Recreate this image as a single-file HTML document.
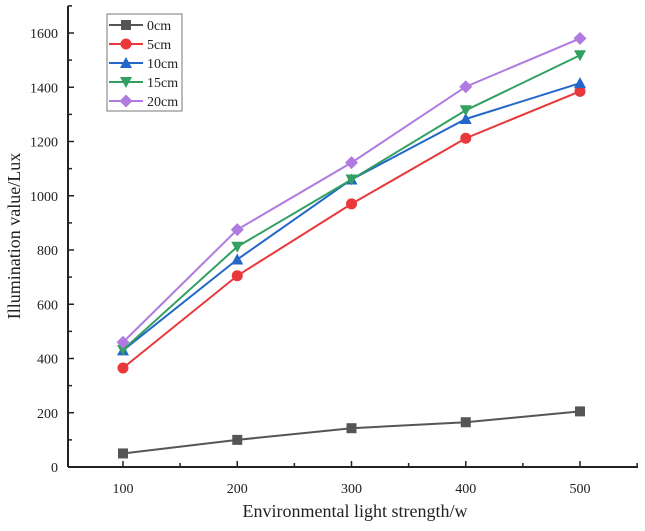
<!DOCTYPE html>
<html><head><meta charset="utf-8"><style>
body{margin:0;background:#fff;}
text{font-family:"Liberation Serif",serif;fill:#222;}
</style></head><body>
<svg id="c" width="645" height="526" xmlns="http://www.w3.org/2000/svg"></svg>
<script>
const categories=[100,200,300,400,500];
const s0=[50,100,143,165,205];
const s5=[365,705,970,1212,1385];
const s10=[430,765,1060,1283,1415];
const s15=[432,812,1060,1315,1518];
const s20=[460,875,1122,1402,1580];
const seriesNames=["0cm","5cm","10cm","15cm","20cm"];
const yTicks=[0,200,400,600,800,1000,1200,1400,1600];
const xTicks=[100,200,300,400,500];
const colors=["#555555","#e8383a","#2367c8","#32a060","#b07ae0"];
const markers=["square","circle","up","down","diamond"];
const all=[s0,s5,s10,s15,s20];
const NS="http://www.w3.org/2000/svg";
const svg=document.getElementById('c');
const L=68,R=638,T=6,B=467;
const X=v=>123+(v-100)*(580-123)/400;
const Y=v=>B-v*(B-33)/1600;
function el(t,a,p){const e=document.createElementNS(NS,t);for(const k in a)e.setAttribute(k,a[k]);(p||svg).appendChild(e);return e;}
function marker(type,x,y,c,g){
 if(type==="square")return el('rect',{x:x-5,y:y-5,width:10,height:10,fill:c},g);
 if(type==="circle")return el('circle',{cx:x,cy:y,r:5.5,fill:c},g);
 if(type==="up")return el('polygon',{points:`${x},${y-6} ${x+6},${y+5} ${x-6},${y+5}`,fill:c},g);
 if(type==="down")return el('polygon',{points:`${x},${y+6} ${x+6},${y-5} ${x-6},${y-5}`,fill:c},g);
 return el('polygon',{points:`${x},${y-6.5} ${x+6.5},${y} ${x},${y+6.5} ${x-6.5},${y}`,fill:c},g);
}
// axes
let a=el('line',{x1:L,y1:T,x2:L,y2:B,stroke:'#222','stroke-width':2});

a=el('line',{x1:L,y1:B,x2:R,y2:B,stroke:'#222','stroke-width':2});

yTicks.forEach(v=>{
 el('line',{x1:L,y1:Y(v),x2:L+6,y2:Y(v),stroke:'#222','stroke-width':1.5});
 el('line',{x1:L,y1:Y(v+100),x2:L+4,y2:Y(v+100),stroke:'#222','stroke-width':1.5});
 const t=el('text',{x:L-10,y:Y(v)+5,'text-anchor':'end','font-size':14});t.textContent=v;
 
});
xTicks.forEach(v=>{
 el('line',{x1:X(v),y1:B,x2:X(v),y2:B-6,stroke:'#222','stroke-width':1.5});
 el('line',{x1:X(v+50),y1:B,x2:X(v+50),y2:B-4,stroke:'#222','stroke-width':1.5});
 const t=el('text',{x:X(v),y:B+26,'text-anchor':'middle','font-size':14});t.textContent=v;
 
});
let t=el('text',{x:355,y:517,'text-anchor':'middle','font-size':18});t.textContent="Environmental light strength/w";

t=el('text',{x:20,y:236,'text-anchor':'middle','font-size':18,transform:'rotate(-90 20 236)'});t.textContent="Illumination value/Lux";

all.forEach((s,i)=>{
 const g=el('g',{});
 
 el('polyline',{points:s.map((v,j)=>X(categories[j])+','+Y(v)).join(' '),fill:'none',stroke:colors[i],'stroke-width':2},g);
 s.forEach((v,j)=>{const m=marker(markers[i],X(categories[j]),Y(v),colors[i],g);
  });
});
// legend
const lg=el('g',{});

el('rect',{x:107,y:14,width:75,height:97,fill:'#fff',stroke:'#777','stroke-width':1},lg);
seriesNames.forEach((n,i)=>{
 const y=25+i*19;
 const g=el('g',{},lg);
 
 el('line',{x1:109,y1:y,x2:143,y2:y,stroke:colors[i],'stroke-width':2},g);
 marker(markers[i],126,y,colors[i],g);
 const tt=el('text',{x:147,y:y+5,'font-size':14},g);tt.textContent=n;
});
</script>
</body></html>
